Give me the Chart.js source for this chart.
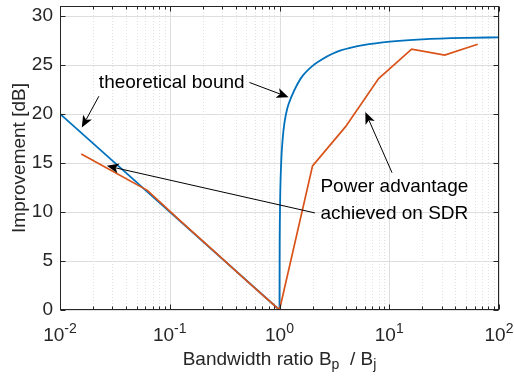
<!DOCTYPE html>
<html>
<head>
<meta charset="utf-8">
<script src="https://cdn.jsdelivr.net/npm/chart.js@4/dist/chart.umd.min.js"></script>
<style>
  body { margin: 0; background: #fff; }
  #wrap { width: 514px; height: 376px; }
</style>
</head>
<body>
<div id="wrap"><canvas id="chart" width="514" height="376"></canvas></div>
<script>
// theoretical bound, left branch (B_p < B_j)
const boundLeftX = [0.01, 0.1, 1];
const boundLeftY = [20, 10, 0];
// theoretical bound, right branch (B_p > B_j)
const boundRightX = [1, 1.002, 1.01, 1.036, 1.07, 1.11, 1.18, 1.28, 1.45, 1.63, 2, 2.31, 3.28, 5.15, 8.7, 20, 50, 100];
const boundRightY = [0, 5, 10, 15, 17.5, 19.1, 20.6, 21.7, 23.0, 23.9, 24.9, 25.4, 26.3, 26.9, 27.3, 27.6, 27.75, 27.8];
// measured on SDR
const sdrX = [0.015625, 0.0625, 0.125, 0.25, 0.5, 1, 2, 4, 8, 16, 32, 64];
const sdrY = [15.9, 12.2, 9.1, 6.05, 3.0, 0, 14.7, 18.7, 23.6, 26.6, 26.0, 27.1];
// y tick labels
const yTicks = [0, 5, 10, 15, 20, 25, 30];
// x decades (exponents)
const xDecades = [-2, -1, 0, 1, 2];

const BLUE = '#0072BD';
const ORANGE = '#D95319';
const AXIS = '#262626';
const FONT = '"Liberation Sans", Arial, sans-serif';
const FS = 19;

function pts(xs, ys) {
    return xs.map((x, i) => ({ x: x, y: ys[i] }));
}

// 箭头
function arrow(ctx, x1, y1, x2, y2) {
    const ang = Math.atan2(y2 - y1, x2 - x1);
    const len = 12, half = 5, back = 9;
    ctx.beginPath();
    ctx.moveTo(x1, y1);
    ctx.lineTo(x2 - Math.cos(ang) * back, y2 - Math.sin(ang) * back);
    ctx.stroke();
    ctx.beginPath();
    ctx.moveTo(x2, y2);
    ctx.lineTo(x2 - Math.cos(ang) * len + Math.sin(ang) * half, y2 - Math.sin(ang) * len - Math.cos(ang) * half);
    ctx.lineTo(x2 - Math.cos(ang) * back, y2 - Math.sin(ang) * back);
    ctx.lineTo(x2 - Math.cos(ang) * len - Math.sin(ang) * half, y2 - Math.sin(ang) * len + Math.cos(ang) * half);
    ctx.closePath();
    ctx.fill();
}

const gridPlugin = {
    id: 'matlabGrid',
    beforeDatasetsDraw(chart) {
        const ctx = chart.ctx, a = chart.chartArea;
        const xs = chart.scales.x, ys = chart.scales.y;
        ctx.save();
        ctx.lineWidth = 1;
        // minor x grid (dotted)
        ctx.strokeStyle = '#e0e0e0';
        ctx.setLineDash([1, 2]);
        xDecades.slice(0, -1).forEach(d => {
            for (let k = 2; k <= 9; k++) {
                const px = Math.round(xs.getPixelForValue(k * Math.pow(10, d))) + 0.5;
                ctx.beginPath(); ctx.moveTo(px, a.top); ctx.lineTo(px, a.bottom); ctx.stroke();
            }
        });
        ctx.setLineDash([]);
        // major grid
        ctx.strokeStyle = '#dedede';
        xDecades.forEach(d => {
            const px = Math.round(xs.getPixelForValue(Math.pow(10, d))) + 0.5;
            ctx.beginPath(); ctx.moveTo(px, a.top); ctx.lineTo(px, a.bottom); ctx.stroke();
        });
        yTicks.forEach(v => {
            const py = Math.round(ys.getPixelForValue(v)) + 0.5;
            ctx.beginPath(); ctx.moveTo(a.left, py); ctx.lineTo(a.right, py); ctx.stroke();
        });
        ctx.restore();
    },
    afterDatasetsDraw(chart) {
        const ctx = chart.ctx, a = chart.chartArea;
        const xs = chart.scales.x, ys = chart.scales.y;
        const P = (x, y) => [xs.getPixelForValue(x), ys.getPixelForValue(y)];
        ctx.save();
        // box and tick marks
        ctx.strokeStyle = AXIS;
        ctx.lineWidth = 1;
        const L = Math.round(a.left) + 0.5, R = Math.round(a.right) - 0.5;
        const T = Math.round(a.top) + 0.5, B = Math.round(a.bottom) - 0.5;
        ctx.strokeRect(L, T, R - L, B - T);
        ctx.beginPath();
        xDecades.forEach((d, i) => {
            const px = Math.round(xs.getPixelForValue(Math.pow(10, d))) + 0.5;
            ctx.moveTo(px, B); ctx.lineTo(px, B - 5);
            ctx.moveTo(px, T); ctx.lineTo(px, T + 5);
            if (i < xDecades.length - 1) {
                for (let k = 2; k <= 9; k++) {
                    const mx = Math.round(xs.getPixelForValue(k * Math.pow(10, d))) + 0.5;
                    ctx.moveTo(mx, B); ctx.lineTo(mx, B - 3);
                    ctx.moveTo(mx, T); ctx.lineTo(mx, T + 3);
                }
            }
        });
        yTicks.forEach(v => {
            const py = Math.round(ys.getPixelForValue(v)) + 0.5;
            ctx.moveTo(L, py); ctx.lineTo(L + 5, py);
            ctx.moveTo(R, py); ctx.lineTo(R - 5, py);
        });
        ctx.stroke();

        // x tick labels 10^n
        ctx.fillStyle = AXIS;
        ctx.textBaseline = 'alphabetic';
        ctx.textAlign = 'left';
        xDecades.forEach(d => {
            const px = xs.getPixelForValue(Math.pow(10, d));
            ctx.font = FS + 'px ' + FONT;
            const w1 = ctx.measureText('10').width;
            ctx.font = '14px ' + FONT;
            const sup = d < 0 ? '-' + (-d) : String(d);
            const w2 = ctx.measureText(sup).width;
            const x0 = px - (w1 + w2) / 2;
            ctx.font = FS + 'px ' + FONT;
            ctx.fillText('10', x0, 341);
            ctx.font = '14px ' + FONT;
            ctx.fillText(sup, x0 + w1, 333);
        });

        // x axis title with subscripts
        const parts = [['Bandwidth ratio B', FS, 0], ['p', 14, 4], ['  / B', FS, 0], ['j', 14, 4]];
        let total = 0;
        parts.forEach(p => { ctx.font = p[1] + 'px ' + FONT; total += ctx.measureText(p[0]).width; });
        let cx = (a.left + a.right) / 2 - total / 2;
        parts.forEach(p => {
            ctx.font = p[1] + 'px ' + FONT;
            ctx.fillText(p[0], cx, 365 + p[2]);
            cx += ctx.measureText(p[0]).width;
        });

        // y axis title
        ctx.save();
        ctx.translate(20, (a.top + a.bottom) / 2);
        ctx.rotate(-Math.PI / 2);
        ctx.textAlign = 'center';
        ctx.textBaseline = 'middle';
        ctx.font = FS + 'px ' + FONT;
        ctx.fillText('Improvement [dB]', 0, 0);
        ctx.restore();

        // annotations
        ctx.fillStyle = '#000';
        ctx.strokeStyle = '#000';
        ctx.lineWidth = 1;
        ctx.font = FS + 'px ' + FONT;
        ctx.textAlign = 'left';
        ctx.textBaseline = 'middle';
        let t = P(0.0226, 23.2);
        ctx.fillText('theoretical bound', t[0], t[1]);
        let s = P(0.0226, 21.8), e = P(0.0158, 18.6);
        arrow(ctx, s[0], s[1], e[0], e[1]);
        s = P(0.533, 23.2); e = P(1.21, 21.7);
        arrow(ctx, s[0], s[1], e[0], e[1]);

        t = P(2.36, 12.6);
        ctx.fillText('Power advantage', t[0], t[1]);
        t = P(2.36, 9.8);
        ctx.fillText('achieved on SDR', t[0], t[1]);
        s = P(10.6, 14.0); e = P(6.05, 20.2);
        arrow(ctx, s[0], s[1], e[0], e[1]);
        s = P(2.1, 9.9); e = P(0.0267, 14.7);
        arrow(ctx, s[0], s[1], e[0], e[1]);
        ctx.restore();
    }
};

new Chart(document.getElementById('chart').getContext('2d'), {
    type: 'line',
    data: {
        datasets: [
            {
                data: pts(boundLeftX, boundLeftY),
                borderColor: BLUE,
                borderWidth: 1.8,
                pointRadius: 0,
                tension: 0,
                order: 2
            },
            {
                data: pts(boundRightX, boundRightY),
                borderColor: BLUE,
                borderWidth: 1.8,
                pointRadius: 0,
                cubicInterpolationMode: 'monotone',
                order: 2
            },
            {
                data: pts(sdrX, sdrY),
                borderColor: ORANGE,
                borderWidth: 1.7,
                pointRadius: 0,
                tension: 0,
                order: 1
            }
        ]
    },
    options: {
        responsive: false,
        animation: false,
        layout: { padding: { top: 6, right: 15, left: 0, bottom: 0 } },
        plugins: {
            legend: { display: false },
            tooltip: { enabled: false }
        },
        scales: {
            x: {
                type: 'logarithmic',
                min: 0.01,
                max: 100,
                grid: { display: false, drawTicks: false },
                border: { display: false },
                ticks: { display: false },
                afterFit: function(scale) {
                    scale.height = 66;
                    scale.paddingLeft = 0;
                    scale.paddingRight = 0;
                }
            },
            y: {
                type: 'linear',
                min: 0,
                max: 31,
                grid: { display: false, drawTicks: false },
                border: { display: false },
                ticks: {
                    stepSize: 5,
                    includeBounds: false,
                    padding: 7,
                    color: AXIS,
                    font: { family: FONT, size: FS }
                },
                afterFit: function(scale) {
                    scale.width = 60;
                    scale.paddingTop = 0;
                    scale.paddingBottom = 0;
                }
            }
        }
    },
    plugins: [gridPlugin]
});
</script>
</body>
</html>
